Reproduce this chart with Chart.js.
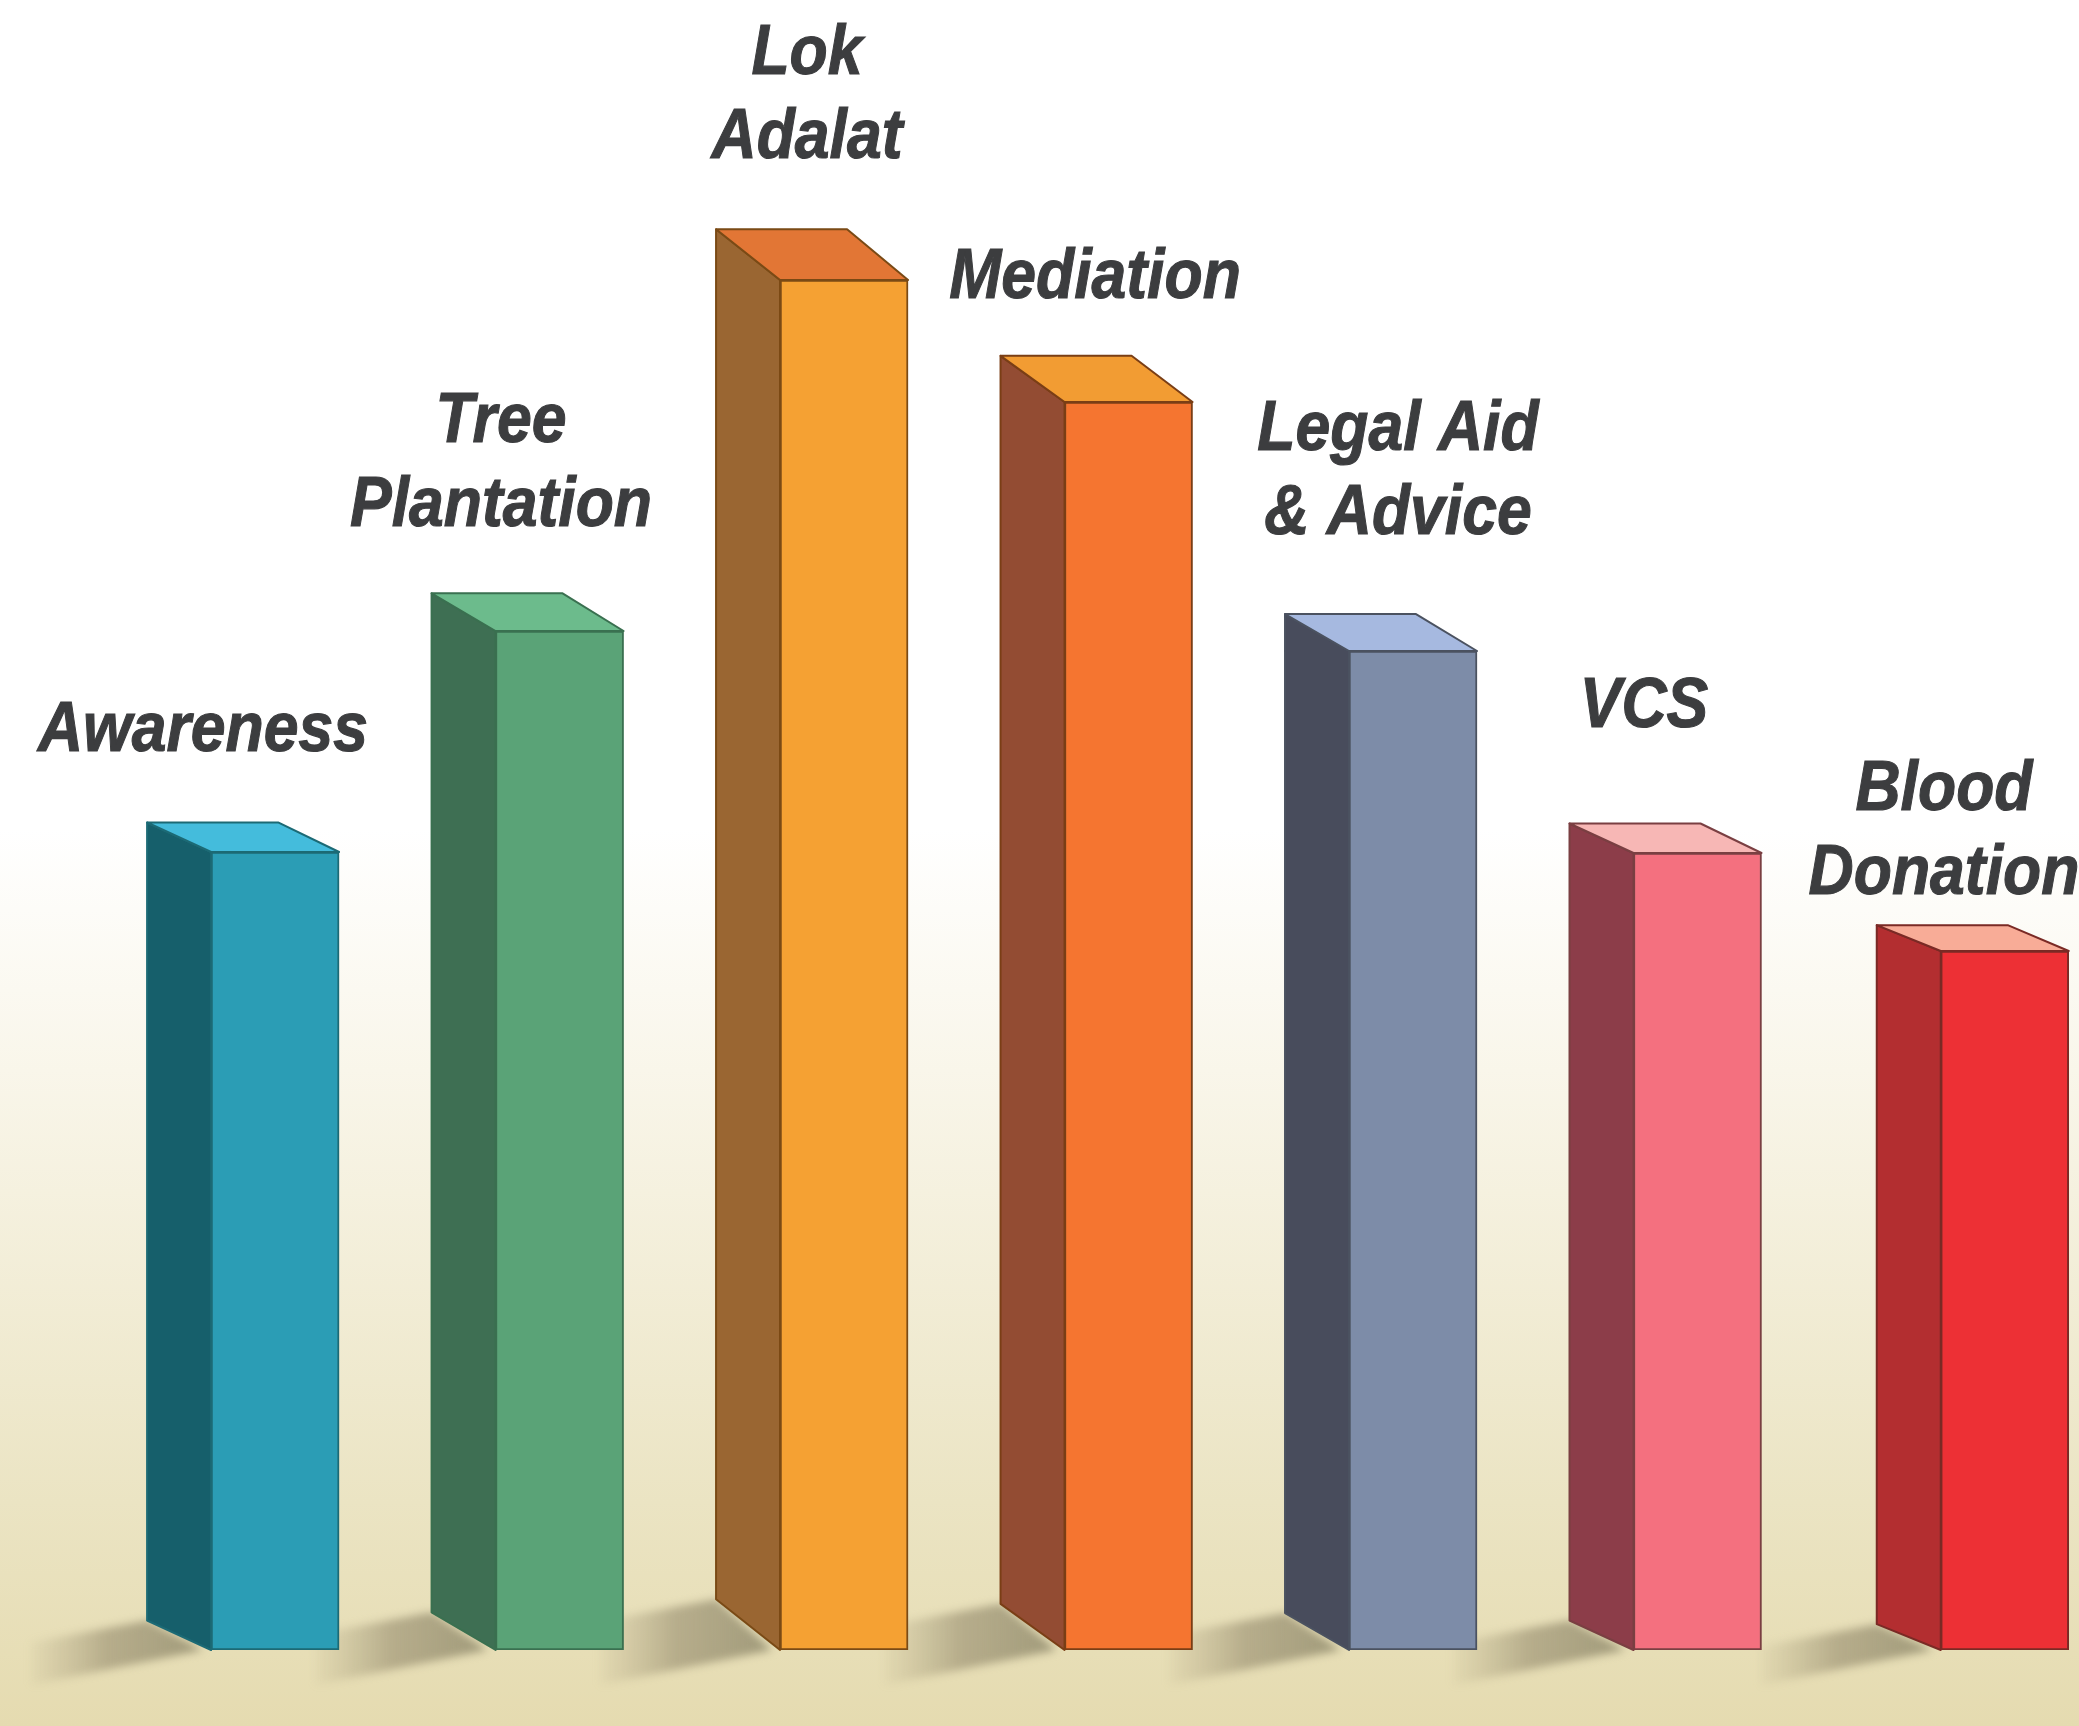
<!DOCTYPE html>
<html>
<head>
<meta charset="utf-8">
<title>Activities</title>
<script src="https://cdn.jsdelivr.net/npm/chart.js@4"></script>
<style>
  html, body { margin: 0; padding: 0; background: #fff; }
  canvas { display: block; }
</style>
</head>
<body>
<canvas id="chart" width="2079" height="1726"></canvas>
<script>
// no axis in the picture, so values are read as relative bar heights
const categories = ['Awareness', 'Tree Plantation', 'Lok Adalat', 'Mediation', 'Legal Aid & Advice', 'VCS', 'Blood Donation'];
const values = [798, 1019, 1370, 1248, 999, 797, 699];
const labelLines = [['Awareness'], ['Tree', 'Plantation'], ['Lok', 'Adalat'], ['Mediation'], ['Legal Aid', '& Advice'], ['VCS'], ['Blood', 'Donation']];

const frontColors = ['#2b9db5', '#5aa377', '#f5a133', '#f57530', '#7d8ca8', '#f4707f', '#ed3035'];
const sideColors = ['#165f6b', '#3e6f53', '#9a6632', '#934c33', '#484c5c', '#8c3d49', '#b32e30'];
const topColors = ['#44bcdc', '#6cbb8c', '#e27635', '#f29c33', '#a6b9e0', '#f7b7b5', '#f8ac97'];
const edgeColors = ['#1c6a75', '#3a7050', '#7a4a15', '#7a3e15', '#4b5260', '#7a3f42', '#7a2a25'];

// label anchors: centre x and first baseline y on the page
const labelAnchors = [[203, 751], [501, 442], [807, 74], [1095, 298], [1398, 450], [1644, 727], [1944, 810]];
const lineGap = 84;

// the last bar sits a little further out than the regular spacing
const lastBarShift = 0.08;
const depthX = 64;
const depthXBack = 61;
const depthRatio = 0.037;

const sceneryPlugin = {
  id: 'scenery',
  beforeDraw(chart) {
    const { ctx, width, height } = chart;
    const g = ctx.createLinearGradient(0, 0, 0, height);
    g.addColorStop(0, '#ffffff');
    g.addColorStop(0.48, '#ffffff');
    g.addColorStop(0.62, '#f9f6ea');
    g.addColorStop(0.87, '#ebe4c3');
    g.addColorStop(1, '#e5dbb0');
    ctx.save();
    ctx.fillStyle = g;
    ctx.fillRect(0, 0, width, height);
    ctx.restore();
  },
  beforeDatasetsDraw(chart) {
    const { ctx } = chart;
    const bars = chart.getDatasetMeta(0).data;

    // floor shadows first, the faces go over them
    bars.forEach((bar) => {
      const left = bar.x - bar.width / 2;
      const dy = (bar.base - bar.y) * depthRatio;
      const g = ctx.createLinearGradient(left, 0, left - 190, 0);
      g.addColorStop(0, 'rgba(140,135,105,0.8)');
      g.addColorStop(0.55, 'rgba(150,140,110,0.6)');
      g.addColorStop(1, 'rgba(170,160,125,0)');
      ctx.save();
      ctx.filter = 'blur(4px)';
      ctx.fillStyle = g;
      ctx.beginPath();
      ctx.moveTo(left - depthX, bar.base - dy);
      ctx.lineTo(left - 8, bar.base);
      ctx.lineTo(left - 180, bar.base + 35);
      ctx.lineTo(left - 180, bar.base - dy + 22);
      ctx.closePath();
      ctx.fill();
      ctx.restore();
    });

    bars.forEach((bar, i) => {
      const left = bar.x - bar.width / 2;
      const right = bar.x + bar.width / 2;
      const dy = (bar.base - bar.y) * depthRatio;
      ctx.save();
      ctx.lineWidth = 2;
      ctx.lineJoin = 'round';
      ctx.strokeStyle = edgeColors[i];

      ctx.fillStyle = sideColors[i];
      ctx.beginPath();
      ctx.moveTo(left, bar.y);
      ctx.lineTo(left - depthX, bar.y - dy);
      ctx.lineTo(left - depthX, bar.base - dy);
      ctx.lineTo(left, bar.base);
      ctx.closePath();
      ctx.fill();
      ctx.stroke();

      ctx.fillStyle = topColors[i];
      ctx.beginPath();
      ctx.moveTo(left, bar.y);
      ctx.lineTo(right, bar.y);
      ctx.lineTo(right - depthXBack, bar.y - dy);
      ctx.lineTo(left - depthX, bar.y - dy);
      ctx.closePath();
      ctx.fill();
      ctx.stroke();
      ctx.restore();
    });
  },
  afterDatasetsDraw(chart) {
    const { ctx } = chart;
    ctx.save();
    ctx.font = 'italic bold 62.5px "Liberation Sans", Arial, sans-serif';
    ctx.fillStyle = '#3c3d3f';
    ctx.strokeStyle = '#3c3d3f';
    ctx.lineWidth = 1;
    ctx.textAlign = 'center';
    ctx.textBaseline = 'alphabetic';
    labelLines.forEach((lines, i) => {
      const [cx, firstY] = labelAnchors[i];
      lines.forEach((line, n) => {
        // lettering in the picture is stretched a bit taller than the font
        ctx.save();
        ctx.translate(cx, firstY + n * lineGap);
        ctx.scale(1, 1.13);
        ctx.fillText(line, 0, 0);
        ctx.strokeText(line, 0, 0);
        ctx.restore();
      });
    });
    ctx.restore();
  }
};

new Chart(document.getElementById('chart'), {
  type: 'bar',
  data: {
    labels: categories,
    datasets: [{
      label: 'Activities',
      data: values.map((v, i) => ({ x: i === values.length - 1 ? i + lastBarShift : i, y: v })),
      backgroundColor: frontColors,
      borderColor: edgeColors,
      borderWidth: 2,
      borderSkipped: false,
      barThickness: 128
    }]
  },
  options: {
    responsive: false,
    animation: false,
    layout: { padding: { left: 0, right: 0, top: 0, bottom: 76 } },
    plugins: {
      legend: { display: false },
      title: { display: false },
      tooltip: { enabled: false }
    },
    scales: {
      x: { type: 'linear', display: false, min: -0.967, max: 6.341, offset: false, grid: { display: false } },
      y: { display: false, min: 0, max: 1650, grid: { display: false } }
    }
  },
  plugins: [sceneryPlugin]
});
</script>
</body>
</html>
